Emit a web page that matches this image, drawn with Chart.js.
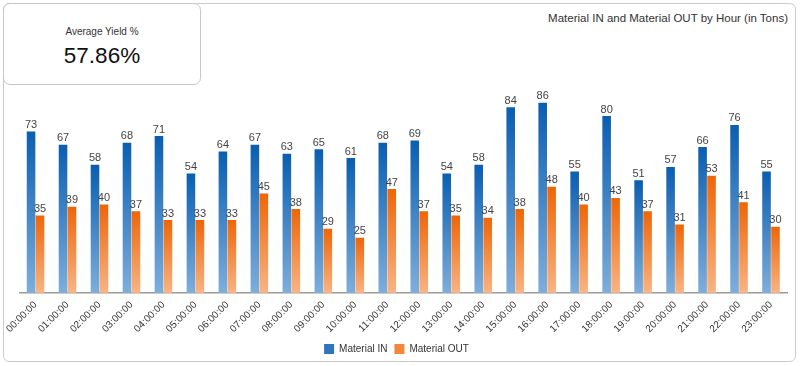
<!DOCTYPE html>
<html>
<head>
<meta charset="utf-8">
<script src="https://cdn.jsdelivr.net/npm/chart.js@4"></script>
<style>
  body { margin: 0; background: #fff; font-family: "Liberation Sans", Arial, sans-serif; overflow: hidden; }
  #panel { position: absolute; left: 3px; top: 3px; width: 793px; height: 359px; border: 1px solid #ccc; border-radius: 6px; box-sizing: border-box; }
  #yield { position: absolute; left: 3px; top: 3px; width: 198px; height: 82px; border: 1px solid #c8c8c8; border-radius: 7px; background: #fff; box-sizing: border-box; text-align: center; }
  #yield .lbl { margin-top: 22px; font-size: 10px; color: #333; }
  #yield .val { margin-top: 6px; font-size: 22.5px; color: #111; }
  #title { position: absolute; right: 12px; top: 12px; font-size: 11.5px; color: #333; }
  #wrap { position: absolute; left: 6px; top: 82px; width: 789px; height: 282px; }
</style>
</head>
<body>
<div id="panel"></div>
<div id="yield"><div class="lbl">Average Yield %</div><div class="val">57.86%</div></div>
<div id="title">Material IN and Material OUT by Hour (in Tons)</div>
<div id="wrap"><canvas id="myChart"></canvas></div>
<script>
const hours = ["00:00:00","01:00:00","02:00:00","03:00:00","04:00:00","05:00:00","06:00:00","07:00:00",
  "08:00:00","09:00:00","10:00:00","11:00:00","12:00:00","13:00:00","14:00:00","15:00:00",
  "16:00:00","17:00:00","18:00:00","19:00:00","20:00:00","21:00:00","22:00:00","23:00:00"];
const materialIn = [73,67,58,68,71,54,64,67,63,65,61,68,69,54,58,84,86,55,80,51,57,66,76,55];
const materialOut = [35,39,40,37,33,33,33,45,38,29,25,47,37,35,34,38,48,40,43,37,31,53,41,30];

// gradient per bar, dark at top and light at the base
const barGradient = (top, bottom) => (ctx) => {
  const chart = ctx.chart;
  const area = chart.chartArea;
  if (!area || ctx.type !== "data") return top;
  const y = chart.scales.y.getPixelForValue(ctx.raw);
  const g = chart.ctx.createLinearGradient(0, y, 0, area.bottom);
  g.addColorStop(0, top);
  g.addColorStop(1, bottom);
  return g;
};

const valueLabels = {
  id: "valueLabels",
  afterDatasetsDraw(chart) {
    const c = chart.ctx;
    c.save();
    c.font = "11px 'Liberation Sans', Arial, sans-serif";
    c.fillStyle = "#444";
    c.textAlign = "center";
    c.textBaseline = "bottom";
    chart.data.datasets.forEach((ds, i) => {
      chart.getDatasetMeta(i).data.forEach((bar, j) => {
        c.fillText(ds.data[j], bar.x, bar.y - 1);
      });
    });
    c.restore();
  }
};

const config = {
  type: "bar",
  data: {
    labels: hours,
    datasets: [
      {
        label: "Material IN",
        data: materialIn,
        backgroundColor: barGradient("#0a5eb0", "#7eaedb"),
        legendColor: "#2f74bd",
      },
      {
        label: "Material OUT",
        data: materialOut,
        backgroundColor: barGradient("#ef6507", "#f9b483"),
        legendColor: "#f4873a",
      },
    ],
  },
  options: {
    responsive: true,
    maintainAspectRatio: false,
    animation: false,
    layout: { padding: { top: 12, right: 8 } },
    datasets: { bar: { categoryPercentage: 0.56, barPercentage: 0.96 } },
    scales: {
      x: {
        grid: { display: false, drawTicks: true, tickLength: 4, tickColor: "#999" },
        border: { color: "#999", width: 1.5 },
        ticks: {
          minRotation: 45, maxRotation: 45, autoSkip: false,
          color: "#333", padding: 2,
          font: { family: "'Liberation Sans', Arial, sans-serif", size: 10 },
        },
      },
      y: { display: false, min: 0, max: 90 },
    },
    plugins: {
      tooltip: { enabled: false },
      legend: {
        position: "bottom",
        labels: {
          boxWidth: 10, boxHeight: 10, padding: 7, color: "#333",
          font: { family: "'Liberation Sans', Arial, sans-serif", size: 10 },
          generateLabels: (chart) => chart.data.datasets.map((ds, i) => ({
            text: ds.label, fillStyle: ds.legendColor, strokeStyle: ds.legendColor,
            lineWidth: 0, datasetIndex: i, fontColor: "#333",
          })),
        },
      },
    },
  },
  plugins: [valueLabels],
};

new Chart(document.getElementById("myChart"), config);
</script>
</body>
</html>
